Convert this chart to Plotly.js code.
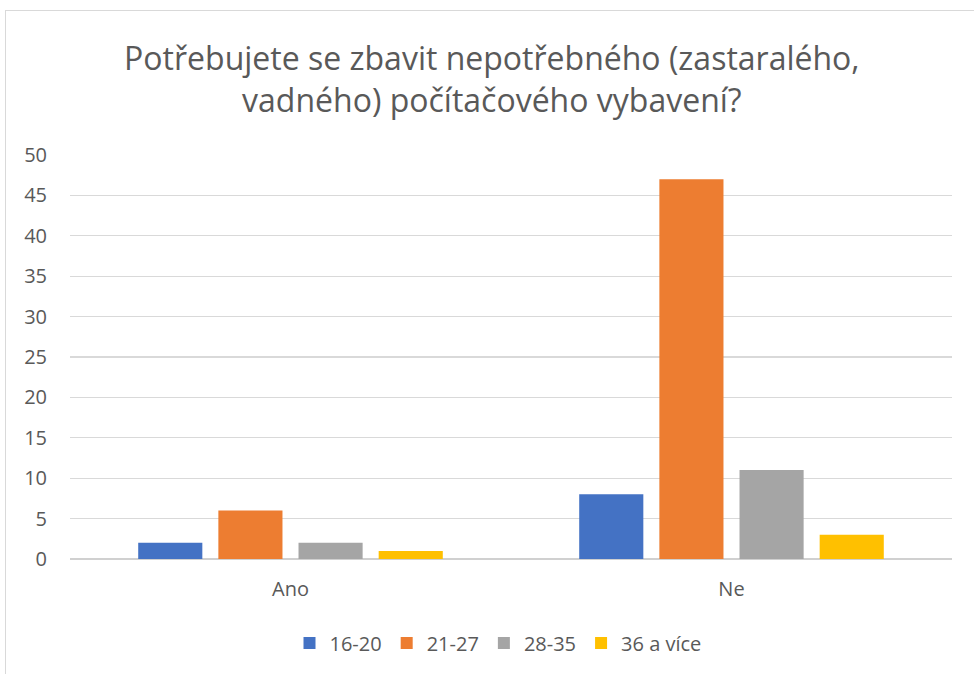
<!DOCTYPE html>
<html>
<head>
<meta charset="utf-8">
<script src="https://cdn.plot.ly/plotly-3.0.1.min.js"></script>
<style>
html,body{margin:0;padding:0;background:#fff;}
#chart{position:absolute;left:0;top:0;width:974px;height:674px;}
#frame{position:absolute;left:5px;top:10px;width:1000px;height:700px;border:1.5px solid #d9d9d9;pointer-events:none;box-sizing:border-box;}
</style>
</head>
<body>
<div id="chart"></div>
<div id="frame"></div>
<script>
const categories = ["Ano", "Ne"];
const seriesNames = ["16-20", "21-27", "28-35", "36 a více"];
const s1620 = [2, 8];
const s2127 = [6, 47];
const s2835 = [2, 11];
const s36 = [1, 3];
const yTicks = [0, 5, 10, 15, 20, 25, 30, 35, 40, 45, 50];
const colors = ["#4472C4", "#ED7D31", "#A5A5A5", "#FFC000"];

const allValues = [s1620, s2127, s2835, s36];
const traces = allValues.map((vals, i) => ({
  type: "bar",
  name: seriesNames[i],
  x: categories,
  y: vals,
  marker: {color: colors[i], line: {width: 0}},
  hoverinfo: "none"
}));

const fontFam = "'Open Sans', 'Liberation Sans', sans-serif";
const layout = {
  width: 974,
  height: 674,
  paper_bgcolor: "rgba(0,0,0,0)",
  plot_bgcolor: "rgba(0,0,0,0)",
  margin: {l: 70, r: 22, t: 155, b: 115},
  barmode: "group",
  bargap: 0.273,
  bargroupgap: 0.2,
  font: {family: fontFam, color: "#595959", size: 20},
  title: {
    text: "Potřebujete se zbavit nepotřebného (zastaralého,<br>vadného) počítačového vybavení?",
    font: {family: fontFam, size: 32, color: "#595959"},
    xref: "container", x: 0.505, xanchor: "center",
    yref: "container", y: 1 - 70/674, yanchor: "top"
  },
  xaxis: {
    type: "category",
    showgrid: false,
    showline: false,
    ticks: "",
    tickfont: {size: 20, color: "#595959"},
    ticklabelstandoff: 16,
    fixedrange: true
  },
  yaxis: {
    range: [0, 50],
    tickvals: yTicks,
    ticktext: yTicks.map(String),
    showgrid: true,
    gridcolor: "#d9d9d9",
    gridwidth: 1.3,
    zeroline: true,
    zerolinecolor: "#d0d0d0",
    zerolinewidth: 1.5,
    showline: false,
    ticks: "",
    tickfont: {size: 20, color: "#595959"},
    ticklabelstandoff: 22,
    fixedrange: true
  },
  showlegend: true,
  legend: {
    orientation: "h",
    xref: "container", x: 498/974, xanchor: "center",
    yref: "container", y: 1 - 643/674, yanchor: "middle",
    font: {size: 20, color: "#595959"},
    itemwidth: 30,
    traceorder: "normal",
    itemclick: false
  }
};

Plotly.newPlot("chart", traces, layout, {displayModeBar: false, staticPlot: true});
</script>
</body>
</html>
